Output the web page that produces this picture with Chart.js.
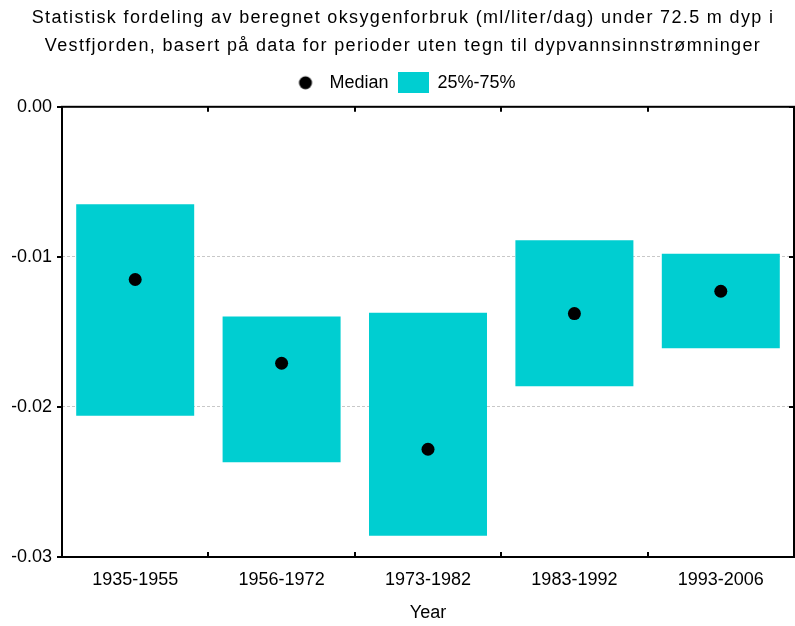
<!DOCTYPE html>
<html>
<head>
<meta charset="utf-8">
<script src="https://cdn.jsdelivr.net/npm/chart.js@4/dist/chart.umd.min.js"></script>
<style>
  html, body { margin: 0; padding: 0; background: #fff; }
  #wrap { width: 795px; height: 626px; }
</style>
</head>
<body>
<div id="wrap"><canvas id="chart" width="795" height="626"></canvas></div>
<script>
// --------------------
// Data
// --------------------
const periods = ["1935-1955", "1956-1972", "1973-1982", "1983-1992", "1993-2006"];
const medians = [-0.01151, -0.01709, -0.02282, -0.01378, -0.01229];
const q25 = [-0.02058, -0.02369, -0.02858, -0.01862, -0.01609];
const q75 = [-0.00649, -0.01398, -0.01373, -0.00889, -0.00980];
const yTicks = [0, -0.01, -0.02, -0.03];

const TURQ = '#00CED1';
const FONT = 'Liberation Sans, Arial, sans-serif';

// legend icons as small canvases
function legendIcon(w, h, draw) {
    const c = document.createElement('canvas');
    c.width = w;
    c.height = h;
    draw(c.getContext('2d'));
    return c;
}
const dotIcon = legendIcon(30, 20, (ctx) => {
    ctx.fillStyle = '#000';
    ctx.beginPath();
    ctx.arc(15, 10, 6.5, 0, Math.PI * 2);
    ctx.fill();
});
const boxIcon = legendIcon(31, 21, (ctx) => {
    ctx.fillStyle = TURQ;
    ctx.fillRect(0, 0, 31, 21);
});

// title gets the wide letter spacing of the original, legend gets a bit more room below
const tweakPlugin = {
    id: 'tweak',
    afterInit(chart) {
        const tb = chart.titleBlock;
        const drawTitle = tb.draw;
        tb.draw = function () {
            const ctx = this.ctx;
            ctx.save();
            ctx.letterSpacing = '1.35px';
            drawTitle.apply(this, arguments);
            ctx.restore();
            ctx.letterSpacing = '0px';
        };
        const lg = chart.legend;
        const fitLegend = lg.fit;
        lg.fit = function () {
            fitLegend.apply(this, arguments);
            this.height += 5;
        };
    }
};

// frame + inward ticks, like the original
const framePlugin = {
    id: 'frame',
    afterDraw(chart) {
        const { ctx, chartArea: a, scales } = chart;
        ctx.save();
        ctx.strokeStyle = '#000';
        ctx.lineWidth = 2;
        ctx.strokeRect(a.left, a.top, a.right - a.left, a.bottom - a.top);
        const step = (a.right - a.left) / periods.length;
        for (let i = 1; i < periods.length; i++) {
            const x = Math.round(a.left + step * i);
            ctx.beginPath();
            ctx.moveTo(x, a.top);
            ctx.lineTo(x, a.top + 5);
            ctx.moveTo(x, a.bottom);
            ctx.lineTo(x, a.bottom - 5);
            ctx.stroke();
        }
        yTicks.forEach((v) => {
            const y = Math.round(scales.y.getPixelForValue(v));
            ctx.beginPath();
            ctx.moveTo(a.right, y);
            ctx.lineTo(a.right - 5, y);
            ctx.moveTo(a.left, y);
            ctx.lineTo(a.left - 5, y);
            ctx.stroke();
        });
        ctx.restore();
    }
};

const data = {
    labels: periods,
    datasets: [
        {
            type: 'line',
            label: 'Median',
            data: medians,
            showLine: false,
            pointRadius: 6.5,
            pointHoverRadius: 6.5,
            pointBackgroundColor: '#000',
            pointBorderWidth: 0,
            borderColor: '#000',
            legendIcon: dotIcon,
        },
        {
            type: 'bar',
            label: '25%-75%',
            data: periods.map((p, i) => [q25[i], q75[i]]),
            backgroundColor: TURQ,
            borderWidth: 0,
            categoryPercentage: 1,
            barPercentage: 0.806,
            legendIcon: boxIcon,
        }
    ]
};

const config = {
    type: 'bar',
    data: data,
    options: {
        responsive: false,
        animation: false,
        layout: { autoPadding: false, padding: { left: 12, right: 1, top: 0, bottom: 0 } },
        plugins: {
            title: {
                display: true,
                text: ['Statistisk fordeling av beregnet oksygenforbruk (ml/liter/dag) under 72.5 m dyp i',
                       'Vestfjorden, basert på data for perioder uten tegn til dypvannsinnstrømninger'],
                color: '#000',
                font: { family: FONT, size: 18, weight: 'normal', lineHeight: 1.55 },
                padding: { top: 4, bottom: 4 },
            },
            legend: {
                display: true,
                labels: {
                    usePointStyle: true,
                    pointStyleWidth: 30,
                    color: '#000',
                    font: { family: FONT, size: 18 },
                    padding: 10,
                    generateLabels: (chart) => chart.data.datasets.map((ds, i) => ({
                        text: ds.label,
                        pointStyle: ds.legendIcon,
                        fillStyle: 'transparent',
                        strokeStyle: 'transparent',
                        lineWidth: 0,
                        fontColor: '#000',
                        datasetIndex: i,
                    })),
                },
            },
            tooltip: { enabled: false },
        },
        scales: {
            x: {
                offset: true,
                afterFit: (scale) => {
                    scale.height = 69;
                    scale.paddingLeft = 0;
                    scale.paddingRight = 0;
                },
                grid: { display: false },
                border: { display: false },
                ticks: {
                    color: '#000',
                    font: { family: FONT, size: 18 },
                    padding: 4,
                    maxRotation: 0,
                },
                title: {
                    display: true,
                    text: 'Year',
                    color: '#000',
                    font: { family: FONT, size: 18 },
                    padding: { top: 4, bottom: 2 },
                },
            },
            y: {
                min: -0.03,
                max: 0,
                afterFit: (scale) => { scale.width = 50; },
                afterBuildTicks: (scale) => {
                    scale.ticks = yTicks.map((v) => ({ value: v }));
                },
                border: { display: false, dash: [3, 2] },
                grid: {
                    color: (c) => (c.tick && (c.tick.value === 0 || c.tick.value === -0.03)) ? 'transparent' : '#c8c8c8',
                    lineWidth: 1,
                    drawTicks: false,
                },
                ticks: {
                    color: '#000',
                    font: { family: FONT, size: 18 },
                    padding: 10,
                    callback: (v) => v.toFixed(2),
                },
            },
        },
    },
    plugins: [tweakPlugin, framePlugin],
};

new Chart(document.getElementById('chart'), config);
</script>
</body>
</html>
